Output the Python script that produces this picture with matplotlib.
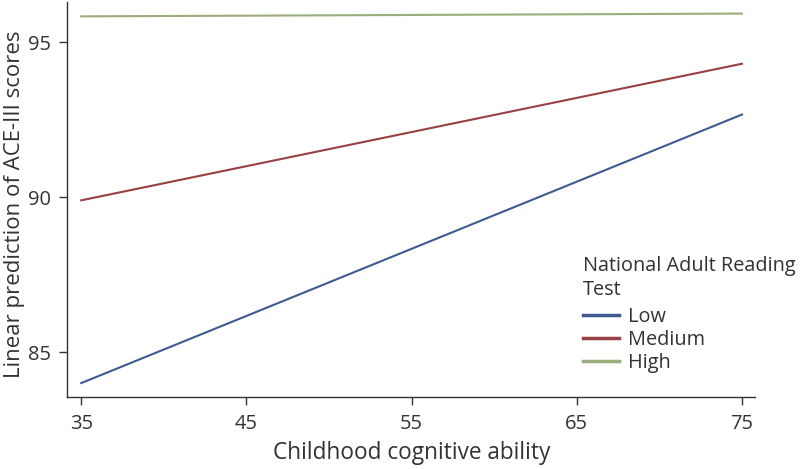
import matplotlib.pyplot as plt

# Predicted ACE-III scores at the ends of the childhood ability range
ability = [35, 75]
low = [84.0, 92.67]
medium = [89.9, 94.31]
high = [95.84, 95.93]

groups = ["Low", "Medium", "High"]
colors = ["#3e5a91", "#984043", "#9aad7b"]

plt.rcParams['font.family'] = ['Open Sans', 'DejaVu Sans']

fig = plt.figure(figsize=(8, 4.69), dpi=100)
ax = fig.add_axes([0.084, 0.1535, 0.86, 0.842])

for vals, name, c in zip([low, medium, high], groups, colors):
    ax.plot(ability, vals, color=c, lw=1.5, label=name)

ax.set_xlim(34.15, 75.8)
ax.set_ylim(83.55, 96.3)
ax.set_xticks([35, 45, 55, 65, 75])
ax.set_yticks([85, 90, 95])

for s in ['top', 'right']:
    ax.spines[s].set_visible(False)
for s in ['left', 'bottom']:
    ax.spines[s].set_color('#333333')
    ax.spines[s].set_linewidth(1.0)
ax.tick_params(direction='out', length=6, width=1, colors='#333333',
               labelsize=14.5, pad=6)

ax.set_xlabel("Childhood cognitive ability", fontsize=16.3, color='#333333', labelpad=5)
ax.set_ylabel("Linear prediction of ACE-III scores", fontsize=16, color='#333333')
ax.yaxis.set_label_coords(-0.062, 0.487)

leg = ax.legend(title="National Adult Reading\nTest", loc='upper left',
                bbox_to_anchor=(0.738, 0.378), frameon=False, fontsize=14.3,
                title_fontsize=14.3, handlelength=1.8, handletextpad=0.46,
                labelspacing=0.15, borderaxespad=0)
leg._legend_box.align = "left"
leg._legend_box.sep = 5
leg.get_title().set_linespacing(1.3)
for t in leg.get_texts():
    t.set_color('#333333')
leg.get_title().set_color('#333333')
for h in leg.legend_handles:
    h.set_linewidth(2.5)

fig.savefig("out.png", dpi=100)
